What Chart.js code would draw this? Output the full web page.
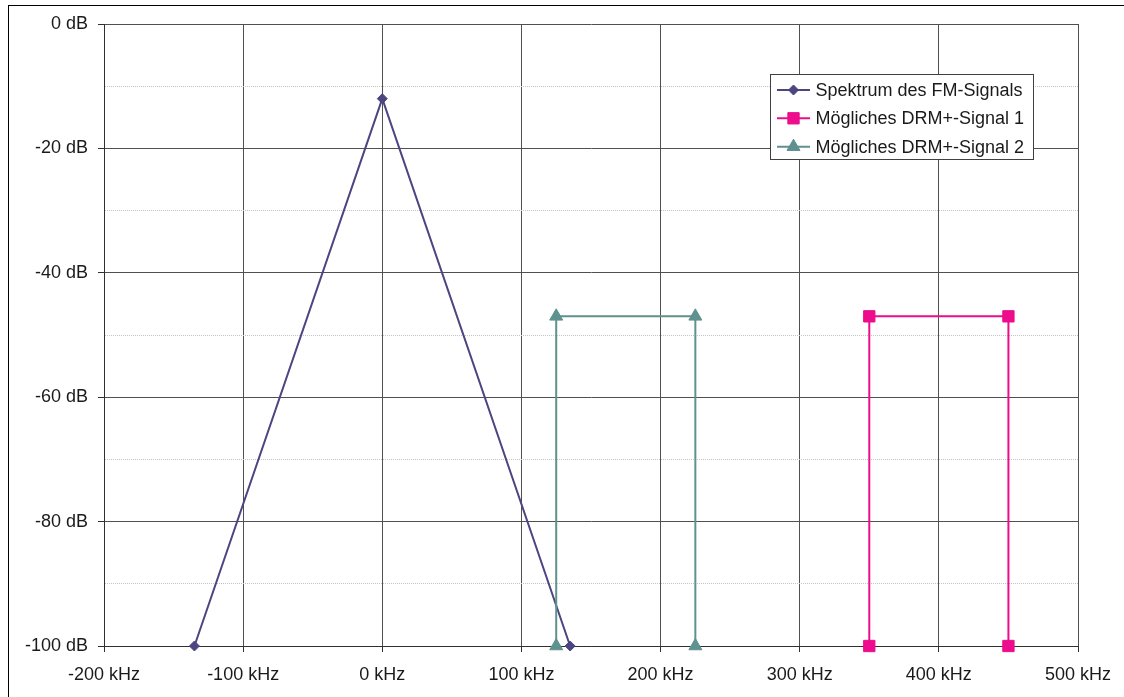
<!DOCTYPE html>
<html>
<head>
<meta charset="utf-8">
<script src="https://cdn.jsdelivr.net/npm/chart.js@4/dist/chart.umd.min.js"></script>
<style>
  html, body { margin: 0; padding: 0; background: #fff; overflow: hidden; }
  #wrap { position: relative; width: 1124px; height: 697px; }
  #frame { position: absolute; left: 8px; top: 5px; width: 2000px; height: 2000px; border: 1px solid #000; box-sizing: border-box; }
  canvas { position: absolute; left: 0; top: 0; }
</style>
</head>
<body>
<div id="wrap">
  <div id="frame"></div>
  <canvas id="c" width="1124" height="697"></canvas>
</div>
<script>
// ---- Data ----
const seriesNames = ['Spektrum des FM-Signals', 'Mögliches DRM+-Signal 1', 'Mögliches DRM+-Signal 2'];
const fmFreq = [-135, 0, 135];
const fmLevel = [-100, -12, -100];
const drm1Freq = [350, 350, 450, 450];
const drm1Level = [-100, -47, -47, -100];
const drm2Freq = [125, 125, 225, 225];
const drm2Level = [-100, -47, -47, -100];
const xTicks = [-200, -100, 0, 100, 200, 300, 400, 500];
const yTicks = [0, -20, -40, -60, -80, -100];

const toPts = (xs, ys) => xs.map((x, i) => ({ x: x, y: ys[i] }));

const FONT = '"Liberation Sans", Arial, sans-serif';
const colors = ['#4B4580', '#EC0C8C', '#5F918E'];
const styles = ['rectRot', 'rect', 'triangle'];
const radii = [5, 8, 7.5];

const legendPlugin = {
  id: 'boxLegend',
  afterDraw(chart) {
    const ctx = chart.ctx;
    const x0 = 770.5, y0 = 74.5, w = 263, h = 85;
    ctx.save();
    ctx.fillStyle = '#fff';
    ctx.fillRect(x0, y0, w, h);
    ctx.strokeStyle = '#404040';
    ctx.lineWidth = 1;
    ctx.strokeRect(x0, y0, w, h);
    const rows = [90, 118.3, 146.7];
    chart.data.datasets.forEach((ds, i) => {
      const y = rows[i];
      ctx.strokeStyle = ds.borderColor;
      ctx.lineWidth = 2;
      ctx.beginPath();
      ctx.moveTo(777, y);
      ctx.lineTo(810, y);
      ctx.stroke();
      ctx.fillStyle = ds.backgroundColor;
      ctx.strokeStyle = ds.borderColor;
      ctx.lineWidth = 1;
      Chart.helpers.drawPoint(ctx, { pointStyle: ds.pointStyle, radius: ds.pointRadius, rotation: 0, borderWidth: 1 }, 793.5, y);
      ctx.fillStyle = '#1a1a1a';
      ctx.font = '18px ' + FONT;
      ctx.textBaseline = 'middle';
      ctx.textAlign = 'left';
      ctx.fillText(ds.label, 815.5, y + 1);
    });
    ctx.restore();
  }
};

const datasets = [
  { label: seriesNames[0], data: toPts(fmFreq, fmLevel), order: 3 },
  { label: seriesNames[1], data: toPts(drm1Freq, drm1Level), order: 2 },
  { label: seriesNames[2], data: toPts(drm2Freq, drm2Level), order: 1 }
].map((d, i) => Object.assign(d, {
  borderColor: colors[i],
  backgroundColor: colors[i],
  pointBackgroundColor: colors[i],
  pointBorderColor: colors[i],
  pointStyle: styles[i],
  pointRadius: radii[i],
  pointHoverRadius: radii[i],
  pointBorderWidth: 1,
  borderWidth: 2,
  tension: 0,
  showLine: true,
  fill: false,
  clip: false
}));

new Chart(document.getElementById('c'), {
  type: 'line',
  data: { datasets: datasets },
  options: {
    responsive: false,
    animation: false,
    events: [],
    layout: { padding: { top: 24, right: 46, left: 0, bottom: 0 } },
    plugins: { legend: { display: false }, tooltip: { enabled: false } },
    scales: {
      x: {
        type: 'linear',
        min: -200, max: 500,
        afterBuildTicks: (s) => { s.ticks = xTicks.map(v => ({ value: v })); },
        afterFit: (s) => { s.height = 51; },
        ticks: {
          color: '#1a1a1a',
          font: { family: FONT, size: 18 },
          padding: 12,
          maxRotation: 0,
          callback: (v) => v + ' kHz'
        },
        grid: { color: '#505050', lineWidth: 1, tickLength: 6, tickColor: '#303030' },
        border: { color: '#303030', width: 1 }
      },
      y: {
        type: 'linear',
        min: -100, max: 0,
        afterBuildTicks: (s) => {
          const t = [];
          for (let v = 0; v >= -100; v -= 10) t.push({ value: v });
          s.ticks = t;
        },
        afterFit: (s) => { s.width = 104; },
        ticks: {
          color: '#1a1a1a',
          font: { family: FONT, size: 18 },
          padding: 10,
          callback: (v) => (yTicks.includes(v) ? v + ' dB' : '')
        },
        grid: {
          color: (c) => (c.tick && c.tick.value % 20 !== 0 ? '#c4c4c4' : '#505050'),
          tickColor: (c) => (c.tick && c.tick.value % 20 !== 0 ? 'rgba(0,0,0,0)' : '#303030'),
          lineWidth: 1,
          tickLength: 6
        },
        border: {
          color: '#303030', width: 1,
          dash: (c) => (c.tick && c.tick.value % 20 !== 0 ? [1, 1] : [])
        }
      }
    }
  },
  plugins: [legendPlugin]
});
</script>
</body>
</html>
